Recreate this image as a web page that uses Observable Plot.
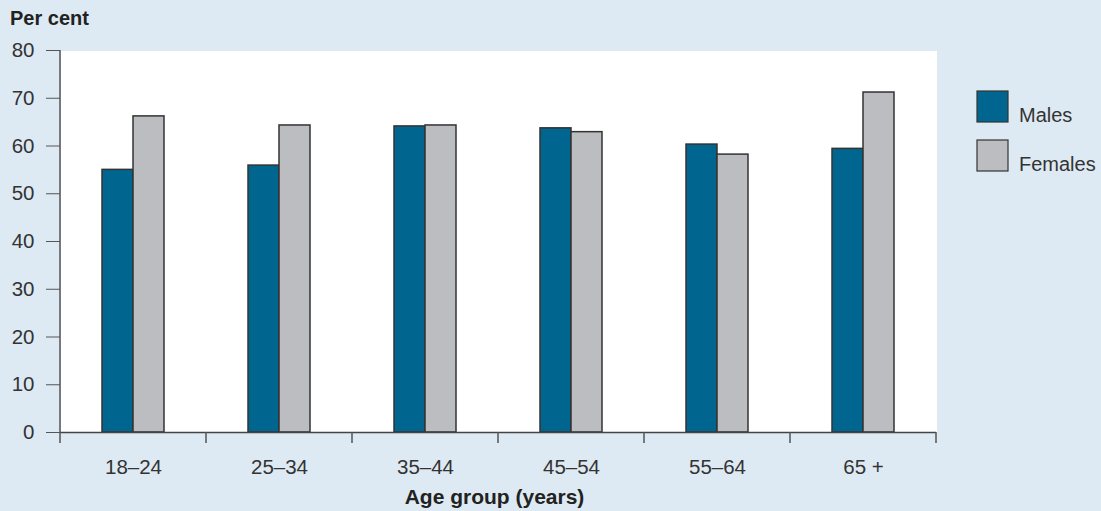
<!DOCTYPE html>
<html><head><meta charset="utf-8">
<script src="https://cdn.jsdelivr.net/npm/d3@7"></script>
<script src="https://cdn.jsdelivr.net/npm/@observablehq/plot@0.6"></script>
<style>body{margin:0;background:#deeaf3}</style>
</head><body><div id="chart"></div>
<script>
const ageGroups = ["18–24", "25–34", "35–44", "45–54", "55–64", "65 +"];
const sexes = ["Males", "Females"];
const males = [55.0, 55.9, 64.1, 63.7, 60.3, 59.4];
const females = [66.2, 64.3, 64.3, 62.9, 58.2, 71.2];
const yTicks = [0, 10, 20, 30, 40, 50, 60, 70, 80];
const colors = ["#00668f", "#bcbdc1"];
const yTitle = "Per cent";
const xTitle = "Age group (years)";

const data = ageGroups.flatMap((a, i) => [
  {age: a, sex: "Males", value: males[i]},
  {age: a, sex: "Females", value: females[i]}
]);

const font = "'Liberation Sans', Arial, Helvetica, sans-serif";
const chart = Plot.plot({
  width: 1101, height: 511,
  marginLeft: 60, marginRight: 165, marginTop: 50, marginBottom: 79,
  style: {background: "#deeaf3", fontFamily: font, fontSize: "20px", color: "#333"},
  fx: {domain: ageGroups, padding: 0, label: null},
  x: {domain: sexes, paddingInner: 0, paddingOuter: 1.317, axis: null},
  y: {domain: [0, 80], ticks: yTicks, label: null},
  color: {domain: sexes, range: colors},
  marks: [
    Plot.frame({fill: "white", stroke: null, shapeRendering: "crispEdges"}),
    Plot.barY(data, {fx: "age", x: "sex", y: "value", fill: "sex", stroke: "#333", strokeWidth: 1.5}),
    Plot.ruleY([0], {stroke: "#444", strokeWidth: 1.5}),
    Plot.axisY({ticks: yTicks, tickSize: 14, tickPadding: 12, stroke: "#555", fill: "#333", fontSize: 20.5, label: null}),
    Plot.axisFx({anchor: "bottom", tickSize: 0, tickPadding: 27, fill: "#333", fontSize: 20.5, label: null})
  ]
});
document.getElementById("chart").appendChild(chart);

const svg = d3.select(chart);
const fx = chart.scale("fx"), y = chart.scale("y"), color = chart.scale("color");
const y0 = y.apply(0), yTop = y.apply(80);
const bounds = ageGroups.map(a => fx.apply(a));
bounds.push(fx.apply(ageGroups[ageGroups.length - 1]) + fx.bandwidth);
const g = svg.append("g").attr("stroke", "#555").attr("stroke-width", 1.5);
g.append("line").attr("x1", bounds[0]).attr("x2", bounds[0]).attr("y1", yTop).attr("y2", y0);
g.selectAll(".bt").data(bounds).join("line")
  .attr("x1", d => d).attr("x2", d => d).attr("y1", y0).attr("y2", y0 + 11);

svg.append("text").attr("x", 10).attr("y", 25).attr("text-anchor", "start")
  .attr("font-family", font).attr("font-size", 20).attr("font-weight", "bold").attr("fill", "#222")
  .text(yTitle);
svg.append("text").attr("x", 494.5).attr("y", 504).attr("text-anchor", "middle")
  .attr("font-family", font).attr("font-size", 21).attr("font-weight", "bold").attr("fill", "#222")
  .text(xTitle);

const leg = svg.append("g").attr("font-family", font).attr("font-size", 20).attr("text-anchor", "start");
sexes.forEach((s, i) => {
  const top = 91 + i * 49;
  leg.append("rect").attr("x", 977).attr("y", top).attr("width", 31).attr("height", 31)
    .attr("fill", color.apply(s)).attr("stroke", "#333").attr("stroke-width", 1.2);
  leg.append("text").attr("x", 1019).attr("y", top + 31).attr("fill", "#333").text(s);
});
</script>
</body></html>
